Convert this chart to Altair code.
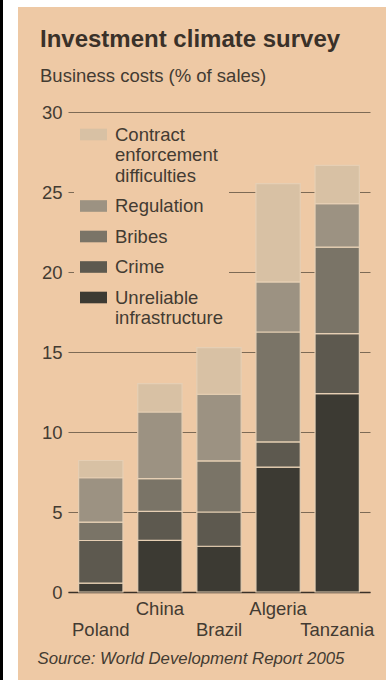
import altair as alt
import pandas as pd

countries = ["Poland", "China", "Brazil", "Algeria", "Tanzania"]
categories = ["Unreliable infrastructure", "Crime", "Bribes", "Regulation",
              "Contract enforcement difficulties"]
infrastructure = [0.55, 3.23, 2.86, 7.81, 12.40]
crime = [2.67, 1.81, 2.14, 1.57, 3.75]
bribes = [1.15, 2.05, 3.19, 6.87, 5.41]
regulation = [2.77, 4.16, 4.17, 3.13, 2.71]
contract = [1.08, 1.77, 2.91, 6.14, 2.40]
y_ticks = [0, 5, 10, 15, 20, 25, 30]

series = [infrastructure, crime, bribes, regulation, contract]
rows = []
for ci, (cat, vals) in enumerate(zip(categories, series)):
    for c, v in zip(countries, vals):
        rows.append({"country": c, "cause": cat, "value": v, "idx": ci})
df = pd.DataFrame(rows)

PAPER = "#eec9a5"
TEXT = "#433b32"
FONT = "Liberation Sans"

legend_domain = categories[::-1]
legend_colors = ["#d8c1a4", "#9c9282", "#7a7467", "#5d594f", "#3c3a33"]

bars = alt.Chart(df).mark_bar(stroke="#e6cfb4", strokeWidth=1.2).encode(
    x=alt.X("country:N", sort=countries,
            scale=alt.Scale(paddingInner=0.25, paddingOuter=0.18),
            axis=alt.Axis(title="Source: World Development Report 2005",
                          titleFont=FONT, titleFontSize=16.8,
                          titleFontStyle="italic", titleFontWeight="normal",
                          titleColor=TEXT, titleAnchor="start",
                          titleAlign="left", titleBaseline="top",
                          titleX=-31, titleY=58,
                          labelAngle=0, labelFont=FONT, labelFontSize=18.5,
                          labelColor=TEXT, labelPadding=7,
                          labelLineHeight=21,
                          labelExpr="indexof(['China','Algeria'], datum.label) >= 0 ? datum.label : ['', datum.label]",
                          ticks=False, domainColor="#3a3128",
                          domainWidth=1.6, grid=False)),
    y=alt.Y("value:Q", stack="zero",
            scale=alt.Scale(domain=[0, 30], nice=False),
            axis=alt.Axis(title=None, values=y_ticks, grid=True,
                          gridColor="#7d6a55", gridWidth=1,
                          domain=False, ticks=False, labelPadding=6,
                          labelFont=FONT, labelFontSize=18.5,
                          labelColor=TEXT)),
    color=alt.Color("cause:N",
                    scale=alt.Scale(domain=legend_domain, range=legend_colors),
                    legend=alt.Legend(
                        title=None, orient="none", legendX=6, legendY=3,
                        direction="vertical",
                        symbolType="M-1,-0.43H1V0.43H-1Z", symbolSize=729,
                        symbolStrokeWidth=0, symbolOpacity=1,
                        labelFont=FONT, labelFontSize=18.5, labelColor=TEXT,
                        labelLimit=300, labelOffset=8,
                        labelExpr="datum.label == 'Contract enforcement difficulties' ? ['Contract', 'enforcement', 'difficulties'] : datum.label == 'Unreliable infrastructure' ? ['Unreliable', 'infrastructure'] : datum.label",
                        rowPadding=7.5, padding=6, fillColor=PAPER)),
    order=alt.Order("idx:Q", sort="ascending"),
)

frame = alt.Chart(alt.Data(values=[{"a": 1}])).mark_rect(color="white").encode(
    x=alt.value(-65), x2=alt.value(-50), y=alt.value(-112), y2=alt.value(568))
frame_top = alt.Chart(alt.Data(values=[{"a": 1}])).mark_rect(color="white").encode(
    x=alt.value(-65), x2=alt.value(318), y=alt.value(-112), y2=alt.value(-105))
frame_line = alt.Chart(alt.Data(values=[{"a": 1}])).mark_rect(color="black").encode(
    x=alt.value(-68), x2=alt.value(-65), y=alt.value(-112), y2=alt.value(568))

chart = alt.layer(frame, frame_top, frame_line, bars).properties(
    width=302, height=480,
    autosize=alt.AutoSizeParams(type="none"),
    padding={"left": 68, "top": 112, "right": 16, "bottom": 88},
    background=PAPER,
    title=alt.Title("Investment climate survey",
                    subtitle="Business costs (% of sales)",
                    anchor="start", frame="group", dx=-28, dy=111, font=FONT,
                    fontSize=24, fontWeight="bold", color="#3a3129",
                    subtitleFont=FONT, subtitleFontSize=18.5,
                    subtitleColor=TEXT, offset=26, subtitlePadding=15),
).configure_view(stroke=None)

chart.save("out.html", embed_options={"renderer": "svg", "actions": False})
